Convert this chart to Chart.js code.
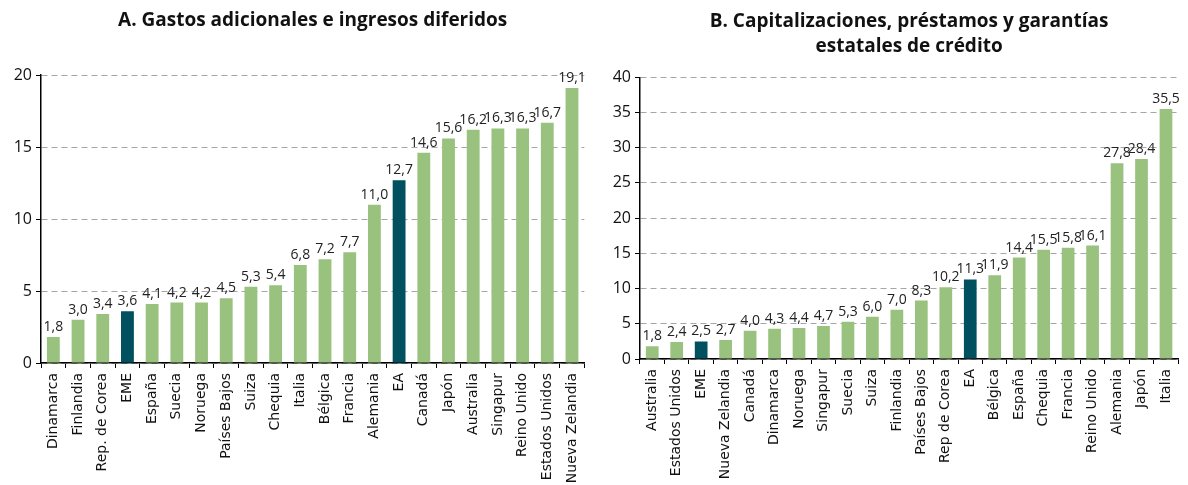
<!DOCTYPE html>
<html>
<head>
<meta charset="utf-8">
<script src="https://cdn.jsdelivr.net/npm/chart.js@4/dist/chart.umd.min.js"></script>
<style>
  html, body { margin: 0; padding: 0; background: #fff; }
  #wrap { position: relative; width: 1188px; height: 485px; }
  .panel { position: absolute; top: 0; width: 594px; height: 485px; }
</style>
</head>
<body>
<div id="wrap">
  <div class="panel" style="left:0"><canvas id="chartA" width="594" height="485"></canvas></div>
  <div class="panel" style="left:594px"><canvas id="chartB" width="594" height="485"></canvas></div>
</div>
<script>
// Panel A: gastos adicionales e ingresos diferidos
const countriesA = ['Dinamarca', 'Finlandia', 'Rep. de Corea', 'EME', 'España', 'Suecia', 'Noruega',
  'Países Bajos', 'Suiza', 'Chequia', 'Italia', 'Bélgica', 'Francia', 'Alemania', 'EA', 'Canadá',
  'Japón', 'Australia', 'Singapur', 'Reino Unido', 'Estados Unidos', 'Nueva Zelandia'];
const valuesA = [1.8, 3.0, 3.4, 3.6, 4.1, 4.2, 4.2, 4.5, 5.3, 5.4, 6.8, 7.2, 7.7, 11.0, 12.7, 14.6,
  15.6, 16.2, 16.3, 16.3, 16.7, 19.1];

// Panel B: capitalizaciones, préstamos y garantías
const countriesB = ['Australia', 'Estados Unidos', 'EME', 'Nueva Zelandia', 'Canadá', 'Dinamarca',
  'Noruega', 'Singapur', 'Suecia', 'Suiza', 'Finlandia', 'Países Bajos', 'Rep de Corea', 'EA',
  'Bélgica', 'España', 'Chequia', 'Francia', 'Reino Unido', 'Alemania', 'Japón', 'Italia'];
const valuesB = [1.8, 2.4, 2.5, 2.7, 4.0, 4.3, 4.4, 4.7, 5.3, 6.0, 7.0, 8.3, 10.2, 11.3, 11.9, 14.4,
  15.5, 15.8, 16.1, 27.8, 28.4, 35.5];

const highlight = ['EME', 'EA'];
const GREEN = '#9ac27f';
const DARK = '#00505f';

// value labels above the bars, with decimal comma
const valueLabels = {
  id: 'valueLabels',
  afterDatasetsDraw(chart) {
    const ctx = chart.ctx;
    const meta = chart.getDatasetMeta(0);
    const data = chart.data.datasets[0].data;
    ctx.save();
    ctx.font = '14px "Open Sans"';
    ctx.fillStyle = '#222';
    ctx.textAlign = 'center';
    ctx.textBaseline = 'bottom';
    meta.data.forEach((bar, i) => {
      ctx.fillText(data[i].toFixed(1).replace('.', ','), bar.x, bar.y - 3);
    });
    ctx.restore();
  }
};

function makeChart(id, labels, values, opts) {
  return new Chart(document.getElementById(id), {
    type: 'bar',
    data: {
      labels,
      datasets: [{
        data: values,
        backgroundColor: labels.map(l => highlight.includes(l) ? DARK : GREEN),
        barPercentage: 0.52,
        categoryPercentage: 1.0
      }]
    },
    options: {
      responsive: false,
      animation: false,
      layout: { padding: { left: 0, right: opts.right, top: 0, bottom: 0 } },
      plugins: {
        legend: { display: false },
        tooltip: { enabled: false },
        title: {
          display: true,
          fullSize: false,
          text: opts.title,
          color: '#111',
          font: { family: '"Open Sans"', size: 19, weight: 'bold', lineHeight: 1.27 },
          padding: opts.titlePad
        }
      },
      scales: {
        x: {
          afterFit(scale) { scale.height = opts.xHeight; },
          border: { display: true, color: '#000', width: 1.5 },
          grid: { drawOnChartArea: false, drawTicks: true, tickLength: 5, color: '#000' },
          ticks: {
            minRotation: 90, maxRotation: 90, autoSkip: false,
            color: '#111', padding: 5,
            font: { family: '"DejaVu Sans"', size: 14 }
          }
        },
        y: {
          min: 0, max: opts.max,
          afterFit(scale) { scale.width = opts.yWidth; },
          border: { display: true, color: '#000', width: 1.5, dash: [6, 4] },
          grid: { color: '#a6a6a6', lineWidth: 1, tickLength: 5, tickColor: '#000' },
          ticks: {
            stepSize: 5, color: '#111', padding: 4,
            font: { family: '"Open Sans"', size: 16 }
          }
        }
      }
    },
    plugins: [valueLabels]
  });
}

makeChart('chartA', countriesA, valuesA, {
  title: 'A. Gastos adicionales e ingresos diferidos',
  max: 20, right: 9, yWidth: 41, xHeight: 122,
  titlePad: { top: 9, bottom: 42 }
});

makeChart('chartB', countriesB, valuesB, {
  title: ['B. Capitalizaciones, préstamos y garantías', 'estatales de crédito'],
  max: 40, right: 8, yWidth: 46, xHeight: 126,
  titlePad: { top: 10, bottom: 19 }
});
</script>
</body>
</html>
